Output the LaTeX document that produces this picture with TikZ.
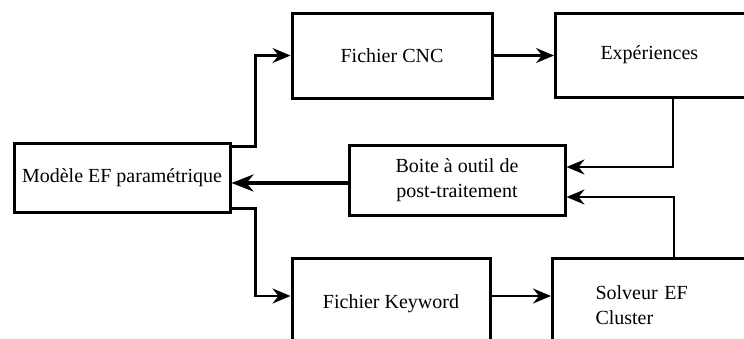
\documentclass[tikz,border=0pt]{standalone}
\usepackage{fontspec}
\setmainfont{Liberation Serif}
\usetikzlibrary{positioning,arrows.meta}
\tikzset{main box/.style={rectangle,draw,line width=1.5pt,inner sep=0pt,font=\fontsize{10}{12.5}\selectfont},
link/.style={line width=1.1pt,-{Stealth[length=9pt,width=7.5pt,inset=3pt]}},
}

\begin{document}
\begin{tikzpicture}[x=0.5pt,y=-0.5pt]
	\useasboundingbox (0,0) rectangle (744,338);
	\clip (0,0) rectangle (744,338);
	\node[main box,minimum width=100pt,minimum height=42.5pt] (cnc) at (392,55.5) {\raisebox{-2.5pt}{Fichier CNC}};
	\node[main box,minimum width=108pt,minimum height=34.5pt] (modele) at (122,177.5) {Mod\`ele EF param\'etrique};
	\node[main box,anchor=west,minimum height=42pt,align=left,text width=60pt,inner xsep=22.5pt] (exp) at (554,55) {Exp\'eriences};
	\node[main box,minimum width=108pt,minimum height=35pt,align=center] (boite) at (457,180) {Boite \`a outil de\\post-traitement};
	\node[main box,minimum width=99pt,minimum height=46pt] (keyword) at (391,304) {\raisebox{-1.5pt}{Fichier Keyword}};
	\node[main box,anchor=north west,minimum height=46.5pt,align=left,text width=60pt,inner xsep=21.5pt] (solveur) at (551,257) {Solveur EF\\Cluster};
	
	\draw[link] (modele.north east) ++(0,5) -- ++(24,0) |- (cnc.west);
	\draw[link] (modele.south east) ++(0,-5) -- ++(24,0) |- ([yshift=4pt]keyword.west);
	\draw[link] (cnc.east) -- (cnc.east -| exp.west);
	\draw[link] ([yshift=4pt]keyword.east) -- ([yshift=4pt]keyword.east -| solveur.west);
	\draw[link] (exp.south west) ++(119,0) |- ([yshift=6.5pt]boite.east);
	\draw[link] (solveur.north west) ++(123,0) |- ([yshift=-8.5pt]boite.east);
	\draw[link,line width=1.8pt,-{Stealth[length=11pt,width=8.5pt,inset=3.5pt]}] ([yshift=-1.5pt]boite.west) -- ([yshift=-1.5pt]boite.west -| modele.east);
\end{tikzpicture}
\end{document}
